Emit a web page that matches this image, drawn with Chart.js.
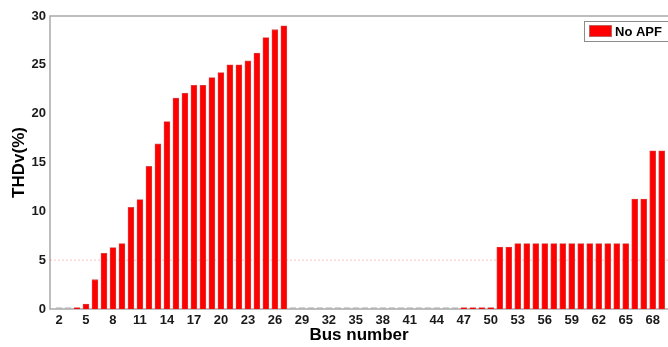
<!DOCTYPE html>
<html>
<head>
<meta charset="utf-8">
<script src="https://cdn.jsdelivr.net/npm/chart.js@4.4.0/dist/chart.umd.min.js"></script>
<style>
  html, body { margin: 0; padding: 0; background: #fff; }
  #thd-chart { display: block; }
</style>
</head>
<body>
<canvas id="thd-chart" width="668" height="347"></canvas>
<script>
// bus numbers shown on the x axis (2..69)
var buses = [];
for (var b = 2; b <= 69; b++) buses.push(b);

// THDv (%) per bus, no APF
var thdNoApf = [
  0, 0, 0.12, 0.5, 3.0, 5.7, 6.3, 6.7, 10.4, 11.2,          // 2-11
  14.6, 16.9, 19.2, 21.6, 22.1, 22.9, 22.9, 23.7, 24.2, 25.0, // 12-21
  25.0, 25.4, 26.2, 27.8, 28.6, 29.0,                         // 22-27
  0, 0, 0, 0, 0, 0, 0, 0, 0, 0,                               // 28-37
  0, 0, 0, 0, 0, 0, 0, 0, 0,                                  // 38-46
  0.05, 0.05, 0.05, 0.05,                                     // 47-50
  6.35, 6.35, 6.7, 6.7, 6.7, 6.7, 6.7, 6.7, 6.7, 6.7,         // 51-60
  6.7, 6.7, 6.7, 6.7, 6.7,                                    // 61-65
  11.25, 11.25, 16.2, 16.2                                    // 66-69
];

var xTicks = [2, 5, 8, 11, 14, 17, 20, 23, 26, 29, 32, 35, 38, 41, 44, 47, 50, 53, 56, 59, 62, 65, 68];
var yTicks = [0, 5, 10, 15, 20, 25, 30];
var limitLine = 5; // 5% THD limit
var seriesName = "No APF";

var barPoints = buses.map(function (bus, i) {
  return { x: bus, y: thdNoApf[i] };
});

var framePlugin = {
  id: "frame",
  beforeDatasetsDraw: function (chart) {
    var a = chart.chartArea;
    var ctx = chart.ctx;
    ctx.save();
    ctx.strokeStyle = "#a9a9a9";
    ctx.lineWidth = 1.5;
    ctx.beginPath();
    ctx.moveTo(a.right + 2, a.top);
    ctx.lineTo(a.left, a.top);
    ctx.lineTo(a.left, a.bottom);
    ctx.lineTo(a.right + 2, a.bottom);
    ctx.stroke();
    ctx.restore();
  },
  afterDraw: function (chart) {
    // matlab style legend box in the top right corner
    var a = chart.chartArea;
    var ctx = chart.ctx;
    var x = a.right - 84, y = a.top + 5;
    ctx.save();
    ctx.fillStyle = "#fff";
    ctx.fillRect(x, y, 86, 20);
    ctx.strokeStyle = "#8c8c8c";
    ctx.lineWidth = 1;
    ctx.strokeRect(x + 0.5, y + 0.5, 86, 20);
    ctx.fillStyle = "#ff0000";
    ctx.fillRect(x + 5, y + 4, 23, 12);
    ctx.strokeStyle = "#c06060";
    ctx.strokeRect(x + 5.5, y + 4.5, 22, 11);
    ctx.fillStyle = "#000";
    ctx.font = "bold 13px 'Liberation Sans', Arial";
    ctx.textBaseline = "middle";
    ctx.fillText(seriesName, x + 31, y + 11);
    ctx.restore();
  }
};

new Chart(document.getElementById("thd-chart"), {
  type: "bar",
  data: {
    datasets: [
      {
        type: "bar",
        label: seriesName,
        data: barPoints,
        backgroundColor: thdNoApf.map(function (v) { return v === 0 ? "#b4b4b4" : "#ff0000"; }),
        borderColor: thdNoApf.map(function (v) { return v === 0 ? "#b4b4b4" : "#d84a4a"; }),
        borderWidth: 0.8,
        borderSkipped: "bottom",
        barThickness: 6,
        minBarLength: 1.5,
        order: 1
      },
      {
        type: "line",
        label: "limit",
        data: [{ x: 1, y: limitLine }, { x: 69.7, y: limitLine }],
        borderColor: "rgba(255,80,80,0.35)",
        borderWidth: 1,
        borderDash: [2, 2],
        pointRadius: 0,
        fill: false,
        order: 2
      }
    ]
  },
  options: {
    responsive: false,
    animation: false,
    layout: { padding: { top: 16, right: 0, bottom: 0, left: 0 } },
    scales: {
      x: {
        type: "linear",
        min: 1,
        max: 69.7,
        offset: false,
        grid: { display: false, drawTicks: false },
        border: { display: false },
        afterBuildTicks: function (scale) {
          scale.ticks = xTicks.map(function (v) { return { value: v }; });
        },
        afterFit: function (scale) { scale.height = 38; },
        ticks: {
          autoSkip: false,
          maxRotation: 0,
          padding: 4,
          color: "#1a1a1a",
          font: { family: "Liberation Sans, Arial", size: 13, weight: "bold" }
        },
        title: {
          display: true,
          text: "Bus number",
          color: "#000",
          padding: { top: 0, bottom: 1 },
          font: { family: "Liberation Sans, Arial", size: 17, weight: "bold" }
        }
      },
      y: {
        min: 0,
        max: 30,
        grid: { display: false, drawTicks: false },
        border: { display: false },
        afterBuildTicks: function (scale) {
          scale.ticks = yTicks.map(function (v) { return { value: v }; });
        },
        afterFit: function (scale) { scale.width = 50; },
        ticks: {
          padding: 4,
          color: "#1a1a1a",
          font: { family: "Liberation Sans, Arial", size: 13, weight: "bold" }
        },
        title: {
          display: true,
          text: "THDv(%)",
          color: "#000",
          padding: { top: 9, bottom: 0 },
          font: { family: "Liberation Sans, Arial", size: 17, weight: "bold" }
        }
      }
    },
    plugins: {
      legend: { display: false },
      tooltip: { enabled: false }
    }
  },
  plugins: [framePlugin]
});
</script>
</body>
</html>
